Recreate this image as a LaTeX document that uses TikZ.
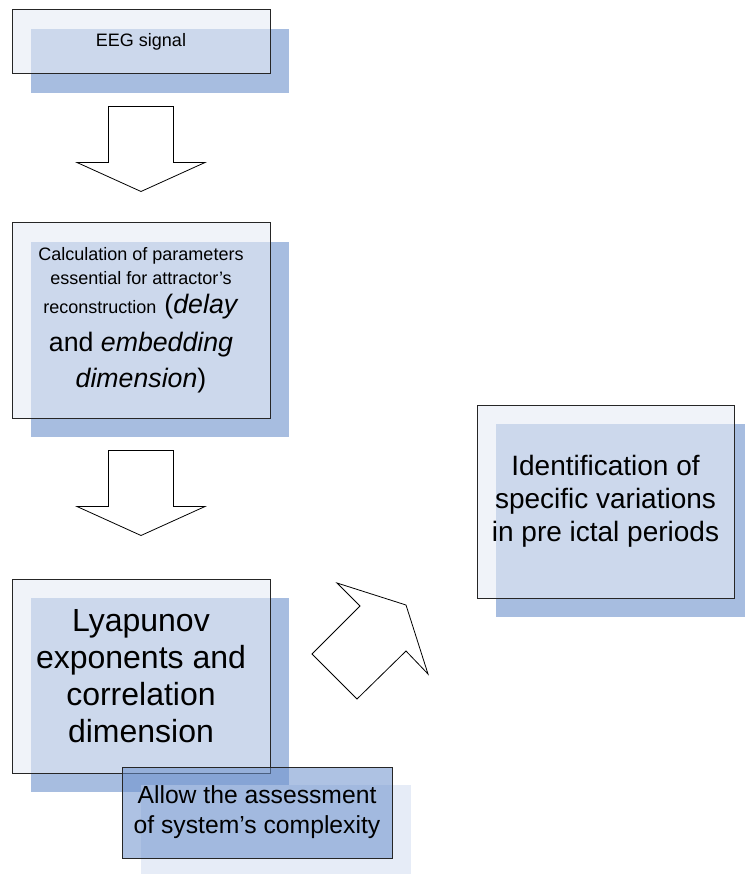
\documentclass[tikz,border=0pt]{standalone}
\usepackage{fontspec}
\setmainfont{Liberation Sans}
\usetikzlibrary{shadows,calc}
\definecolor{frontfill}{HTML}{E6EBF5}
\definecolor{shadowblue}{HTML}{A7BDE0}
\definecolor{notefill}{HTML}{6B90CC}
\definecolor{noteshadow}{HTML}{E6ECF7}
\newcommand{\smallfont}{\fontsize{18}{24}\selectfont}
\newcommand{\bigfont}{\fontsize{26.7}{34}\selectfont}

\begin{document}
\begin{tikzpicture}[x=1pt,y=-1pt,
    frontbox/.style={draw=black!85, line width=1pt, fill=frontfill, fill opacity=0.6, text opacity=1,
      inner sep=0pt, align=center,
      drop shadow={shadow xshift=19pt, shadow yshift=-19pt, fill=shadowblue, opacity=1}},
    notebox/.style={draw=black!85, line width=1pt, fill=notefill, fill opacity=0.55, text opacity=1,
      inner sep=0pt, align=center,
      drop shadow={shadow xshift=19pt, shadow yshift=-18pt, fill=noteshadow, opacity=1}},
    blockarrow/.style={draw=black, line width=0.8pt, fill=white, line join=miter}]
  \useasboundingbox (0,0) rectangle (744,874);

  % the three steps on the left
  \node[frontbox, minimum width=258pt, minimum height=64pt, font=\smallfont] (eeg) at (141,42) {EEG signal};
  \node[frontbox, minimum width=258pt, minimum height=195pt, font=\smallfont] (calc) at (141,320.5)
    {Calculation of parameters\\ essential for attractor's\\[5pt]
     reconstruction\hspace{8pt}{\bigfont(\textit{delay}}\\[12pt]
     {\bigfont and \textit{embedding}}\\[10pt]
     {\bigfont\textit{dimension})}};
  \node[frontbox, minimum width=258pt, minimum height=194pt, font=\fontsize{32}{37}\selectfont] (lyap) at (141,676)
    {Lyapunov\\ exponents and\\ correlation\\ dimension};

  % result on the right
  \node[frontbox, minimum width=257pt, minimum height=193pt, font=\fontsize{28}{33}\selectfont] (ident) at (605.5,501.5)
    {Identification of\\ specific variations\\ in pre ictal periods};

  % note under the third step
  \node[notebox, minimum width=270pt, minimum height=91pt, font=\fontsize{24.7}{30}\selectfont] (allow) at (257,812.5)
    {Allow the assessment\\ of system's complexity};

  % block arrows between the steps
  \path (eeg.south) ++(0,32) coordinate (arr1);
  \path (calc.south) ++(0,32) coordinate (arr2);
  \foreach \a in {arr1,arr2}
    \draw[blockarrow, shift={(\a)}] (-32.5,0) -- (32.5,0) -- (32.5,56) -- (64,56) -- (0,85)
      -- (-64,56) -- (-32.5,56) -- cycle;

  % arrow towards the result
  \draw[blockarrow] (337,583) -- (360,606) -- (312,654) -- (357,699) -- (406,651) -- (428,674)
    -- (406,605) -- cycle;
\end{tikzpicture}
\end{document}
